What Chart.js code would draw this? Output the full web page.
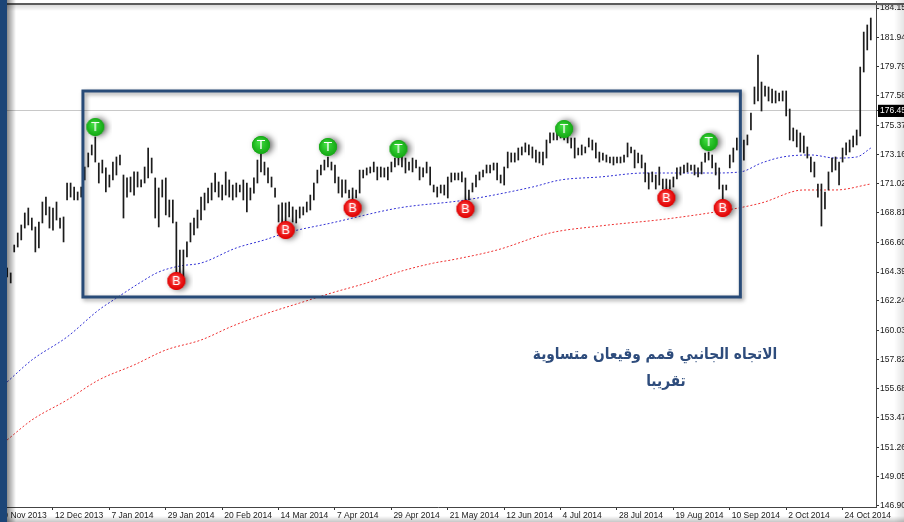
<!DOCTYPE html>
<html><head><meta charset="utf-8">
<script src="https://cdn.jsdelivr.net/npm/chart.js"></script>
<style>
html,body{margin:0;padding:0;background:#fff;overflow:hidden;}
#wrap{position:relative;width:904px;height:522px;overflow:hidden;background:#fff;}
#c{position:absolute;left:0;top:0;}
.lb{position:absolute;left:0;top:0;width:7px;height:522px;background:#1c4577;}
.ls{position:absolute;left:7px;top:0;width:9px;height:522px;background:linear-gradient(to right,rgba(0,0,0,0.45),rgba(0,0,0,0));}
.tl{position:absolute;left:0;top:3px;width:904px;height:2px;background:#5c5c5c;}
.tsh{position:absolute;left:0;top:5px;width:904px;height:6px;background:linear-gradient(to bottom,rgba(0,0,0,0.14),rgba(0,0,0,0));}
.bs{position:absolute;left:0;top:516px;width:904px;height:6px;background:linear-gradient(to bottom,rgba(0,0,0,0),rgba(0,0,0,0.22));}
.rs{position:absolute;left:894px;top:0;width:10px;height:522px;background:linear-gradient(to right,rgba(0,0,0,0),rgba(0,0,0,0.10));}
.note{position:absolute;width:320px;text-align:center;direction:rtl;font-family:"DejaVu Sans",sans-serif;font-weight:bold;font-size:16px;color:#2e4c7c;line-height:20px;white-space:nowrap;transform:scaleX(0.86);transform-origin:50% 50%;}
</style></head>
<body>
<div id="wrap">
<canvas id="c" width="904" height="522"></canvas>
<div class="tl"></div><div class="tsh"></div><div class="bs"></div><div class="rs"></div>
<div class="lb"></div><div class="ls"></div>
<div class="note" style="left:495px;top:344px;">الاتجاه الجانبي قمم وقيعان متساوية</div>
<div class="note" style="left:506px;top:371px;">تقريبا</div>
</div>
<script>
// ---- data ----
const highs = [
164.69,164.32,166.41,167.31,167.91,168.81,169.18,168.43,167.76,168.13,
169.63,170.00,169.26,169.18,169.63,168.43,168.51,171.05,171.05,170.75,
170.38,170.75,172.25,173.30,173.90,174.50,172.55,172.77,172.18,171.65,
172.62,173.00,173.15,171.65,171.43,171.50,171.88,171.88,171.28,172.25,
173.67,172.92,171.43,170.68,171.28,171.43,169.78,169.78,168.13,166.04,
166.04,166.64,168.06,168.43,169.03,170.00,170.30,170.68,171.05,171.80,
171.13,170.90,171.88,171.28,170.90,171.05,170.90,171.28,171.05,170.68,
171.43,172.77,173.30,172.62,172.18,171.50,170.68,169.41,169.56,169.56,
169.63,169.26,169.03,169.26,169.26,169.63,170.15,171.05,172.02,172.40,
172.77,173.00,172.62,172.40,171.50,171.28,171.28,170.53,170.68,170.53,
172.02,172.02,172.18,172.25,172.62,172.25,172.25,172.18,172.25,172.62,
172.92,173.15,173.52,172.92,172.62,172.92,172.77,172.25,172.18,172.62,
172.25,170.90,170.75,170.90,170.90,171.50,171.80,171.80,171.80,171.88,
171.43,170.53,171.05,171.65,171.88,172.02,172.40,172.40,172.55,172.55,
171.65,172.25,173.37,173.30,173.30,173.67,173.75,174.05,173.90,173.75,
173.52,173.37,173.37,174.27,174.80,174.80,174.87,174.87,174.80,174.65,
174.42,174.42,173.67,173.90,173.75,174.42,174.27,174.05,173.37,173.30,
173.15,173.00,173.00,173.00,173.00,173.15,174.05,173.75,173.52,173.30,
173.15,172.55,171.80,171.88,171.65,172.25,171.35,171.35,171.28,171.50,
172.18,172.25,172.40,172.55,172.40,172.40,172.18,172.62,173.30,173.37,
173.15,172.55,172.18,170.90,170.90,173.15,173.67,174.42,174.57,174.27,
174.65,176.29,178.24,180.63,178.61,178.31,178.24,178.09,177.94,177.79,
177.94,177.94,176.59,175.17,175.02,174.80,174.57,173.75,173.00,172.62,
170.98,170.98,170.38,171.88,172.92,173.00,172.62,173.67,174.05,174.27,
174.57,175.02,179.73,182.35,182.88,183.40
];
const lows = [
164.02,163.57,165.89,166.26,166.79,167.68,167.91,167.53,165.89,166.19,
168.06,168.66,167.68,167.53,168.28,167.68,166.64,169.78,170.00,169.78,
169.78,170.00,171.28,172.25,173.15,172.62,171.05,171.80,170.38,170.75,
171.28,171.65,172.40,168.43,170.00,170.38,170.15,170.75,170.75,171.05,
171.43,171.80,168.43,167.76,170.00,168.66,168.51,168.06,164.32,164.17,
164.02,165.51,166.64,167.16,167.68,168.28,169.03,169.56,169.78,170.38,
170.00,169.78,170.15,170.00,169.78,170.00,170.38,169.78,168.88,169.78,
170.30,171.05,171.88,171.65,171.05,170.75,170.00,168.13,168.06,168.13,
168.51,168.13,168.06,168.43,168.66,168.88,169.03,169.78,171.05,171.65,
172.02,172.25,172.02,171.05,170.30,170.00,170.30,169.93,169.78,169.93,
170.30,171.43,171.65,171.80,171.88,171.28,171.50,171.50,171.28,171.88,
172.25,172.40,172.25,171.80,172.02,171.88,172.18,171.28,171.50,171.80,
170.90,170.38,170.00,170.30,170.15,169.93,171.13,171.28,171.28,171.13,
169.78,169.78,170.38,170.75,171.28,171.50,171.80,171.80,172.02,171.28,
171.05,170.90,172.18,172.62,172.62,172.77,173.15,173.37,173.15,172.92,
172.62,172.55,172.40,172.92,174.05,174.27,174.27,174.42,174.27,174.05,
173.67,172.92,173.15,173.15,173.30,173.75,173.52,172.92,172.62,172.77,
172.62,172.55,172.40,172.55,172.55,172.62,173.00,173.30,172.18,172.55,
172.18,171.13,170.60,171.13,170.60,170.90,170.60,170.53,170.60,170.75,
171.35,171.65,171.80,171.88,172.02,171.65,171.50,171.73,172.62,172.77,
172.18,171.65,170.60,169.63,170.53,172.18,172.62,173.52,173.75,172.77,
173.90,175.02,176.97,177.19,176.44,177.56,177.19,177.04,177.04,177.19,
177.19,176.07,174.27,174.20,173.75,173.37,173.30,172.92,171.88,171.50,
170.00,167.83,169.11,170.53,171.88,172.02,170.90,172.62,173.15,173.37,
173.75,173.90,174.57,179.36,181.01,181.76
];
const fastMaBars   = [0,7,17,26,31,38,43,49,55,65,73,79,92,111,130,149,157,168,181,200,208,214,220,228,235,241,245];
const fastMaValues = [156.16,157.80,159.53,161.55,162.44,163.64,164.39,164.84,165.06,166.19,166.79,167.31,168.06,169.18,169.78,170.75,171.28,171.50,171.80,171.80,171.88,172.55,173.00,173.15,172.92,173.00,173.67];
const slowMaBars   = [0,7,17,26,36,45,55,64,74,83,92,102,111,121,126,139,154,168,187,206,214,226,235,245];
const slowMaValues = [151.82,153.31,154.81,156.31,157.43,158.55,159.30,160.35,161.32,162.07,162.82,163.57,164.39,165.06,165.29,166.04,167.31,167.83,168.36,169.11,169.56,170.53,170.53,170.98];
const topBars      = [25,72,91,111,158,199];
const topValues    = [175.24,173.90,173.75,173.60,175.09,174.12];
const bottomBars   = [48,79,98,130,187,203];
const bottomValues = [163.72,167.53,169.18,169.11,169.93,169.18];
const boxBars      = [21.5,208];
const boxPrices    = [162.52,177.94];
const currentPrice = 176.45;
const yTickValues  = [184.15,181.94,179.79,177.58,176.45,175.37,173.16,171.02,168.81,166.60,164.39,162.24,160.03,157.82,155.68,153.47,151.26,149.05,146.90];
const xTickBars    = [-3,13,29,45,61,77,93,109,125,141,157,173,189,205,221,237];
const xTickLabels  = ['20 Nov 2013','12 Dec 2013','7 Jan 2014','29 Jan 2014','20 Feb 2014','14 Mar 2014','7 Apr 2014','29 Apr 2014','21 May 2014','12 Jun 2014','4 Jul 2014','28 Jul 2014','19 Aug 2014','10 Sep 2014','2 Oct 2014','24 Oct 2014'];

// ---- marker images ----
function makeMarker(letter, c1, c2){
  const s=34, cv=document.createElement('canvas'); cv.width=s; cv.height=s;
  const g=cv.getContext('2d'); const cx=s/2, cy=s/2, r=9;
  g.save();
  g.shadowColor='rgba(0,0,0,0.6)'; g.shadowBlur=6; g.shadowOffsetX=3; g.shadowOffsetY=0;
  g.beginPath(); g.arc(cx,cy,r,0,Math.PI*2); g.fillStyle=c2; g.fill();
  g.restore();
  const grd=g.createRadialGradient(cx-2,cy-3,1,cx,cy,r);
  grd.addColorStop(0,c1); grd.addColorStop(1,c2);
  g.beginPath(); g.arc(cx,cy,r,0,Math.PI*2); g.fillStyle=grd; g.fill();
  g.fillStyle='#fff'; g.font='13px "DejaVu Sans"'; g.textAlign='center'; g.textBaseline='middle';
  g.fillText(letter,cx,cy+0.5);
  return cv;
}
const tImg=makeMarker('T','#3fdc3f','#14a814');
const bImg=makeMarker('B','#ff4a4a','#e00000');

const boxPts=[{x:boxBars[0],y:boxPrices[1]},{x:boxBars[1],y:boxPrices[1]},{x:boxBars[1],y:boxPrices[0]},{x:boxBars[0],y:boxPrices[0]},{x:boxBars[0],y:boxPrices[1]}];

const shadowPlugin={
  id:'boxShadow',
  beforeDatasetDraw(chart,args){ if(args.meta.label==='box'){const c=chart.ctx;c.save();c.shadowColor='rgba(0,0,0,0.4)';c.shadowBlur=4;c.shadowOffsetX=2;c.shadowOffsetY=2;} },
  afterDatasetDraw(chart,args){ if(args.meta.label==='box'){chart.ctx.restore();} }
};

new Chart(document.getElementById('c'),{
  type:'bar',
  data:{datasets:[
    {type:'scatter',label:'tops',data:topBars.map((b,i)=>({x:b,y:topValues[i]})),pointStyle:tImg,pointRadius:9,order:0},
    {type:'scatter',label:'bottoms',data:bottomBars.map((b,i)=>({x:b,y:bottomValues[i]})),pointStyle:bImg,pointRadius:9,order:0},
    {type:'line',label:'box',data:boxPts,borderColor:'#284b78',borderWidth:3,pointRadius:0,fill:false,tension:0,borderJoinStyle:'miter',borderCapStyle:'square',order:1},
    {type:'bar',label:'price',data:highs.map((h,i)=>({x:i,y:[lows[i],h]})),backgroundColor:'#1c1c1c',barThickness:1.05,borderWidth:0,order:2},
    {type:'line',label:'fast MA',data:fastMaBars.map((b,i)=>({x:b,y:fastMaValues[i]})),borderColor:'#3030d4',borderWidth:1,borderDash:[2,2],pointRadius:0,cubicInterpolationMode:'monotone',fill:false,order:3},
    {type:'line',label:'slow MA',data:slowMaBars.map((b,i)=>({x:b,y:slowMaValues[i]})),borderColor:'#ee3030',borderWidth:1,borderDash:[2,2],pointRadius:0,cubicInterpolationMode:'monotone',fill:false,order:3}
  ]},
  options:{
    responsive:false,animation:false,devicePixelRatio:1,events:[],
    layout:{autoPadding:false,padding:{top:1,left:0,right:0,bottom:0}},
    plugins:{legend:{display:false},tooltip:{enabled:false}},
    scales:{
      x:{type:'linear',min:-2.03,max:246.48,bounds:'data',offset:false,
        grid:{offset:false,drawOnChartArea:false,tickLength:3,tickColor:'#333'},
        border:{display:true,color:'#444',width:1},
        ticks:{autoSkip:false,maxRotation:0,minRotation:0,align:'start',labelOffset:2,padding:1,color:'#1a1a1a',
          font:{family:'Liberation Sans',size:8.5},
          callback:(v)=>{const k=xTickBars.indexOf(v);return k<0?'':xTickLabels[k];}},
        afterBuildTicks:(s)=>{s.ticks=xTickBars.map(v=>({value:v}));},
        afterFit:(s)=>{s.height=15;s.paddingLeft=0;s.paddingRight=0;}
      },
      y:{type:'linear',position:'right',min:146.80,max:184.675,bounds:'data',
        grid:{drawOnChartArea:true,tickLength:3,tickColor:'#333',
          color:(c)=>(c.tick&&c.tick.value===currentPrice)?'#c8c8c8':'rgba(0,0,0,0)'},
        border:{display:true,color:'#444',width:1},
        ticks:{autoSkip:false,padding:1,color:(c)=>(c.tick&&c.tick.value===currentPrice)?'#fff':'#1a1a1a',
          font:{family:'Liberation Sans',size:8.5},
          showLabelBackdrop:(c)=>!!(c.tick&&c.tick.value===currentPrice),
          backdropColor:'#000',backdropPadding:{top:1,bottom:1,left:2,right:4},
          callback:(v)=>Number(v).toFixed(2)},
        afterBuildTicks:(s)=>{s.ticks=yTickValues.map(v=>({value:v}));},
        afterFit:(s)=>{s.width=28;s.paddingTop=0;s.paddingBottom=0;}
      }
    }
  },
  plugins:[shadowPlugin]
});
</script>
</body></html>
